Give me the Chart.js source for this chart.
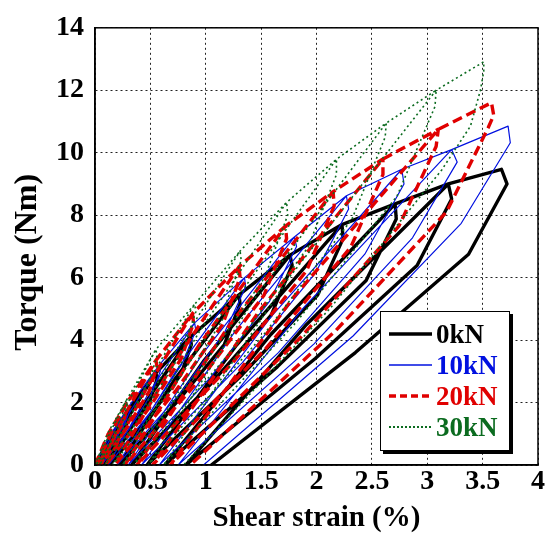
<!DOCTYPE html>
<html>
<head>
<meta charset="utf-8">
<script src="https://cdn.jsdelivr.net/npm/chart.js@4.4.1/dist/chart.umd.min.js"></script>
<style>
  html, body { margin: 0; padding: 0; background: #fff; }
  #wrap { position: relative; width: 550px; height: 536px; }
  #legend {
    position: absolute; left: 380px; top: 311px; width: 128px; height: 138px;
    border: 1.5px solid #000; background: #fff; box-shadow: 3px 3px 0 #000;
    font-family: "Liberation Serif", "Times New Roman", serif; font-weight: bold; font-size: 27px;
  }
  .row { position: absolute; left: 0; height: 30px; width: 128px; }
  .row svg { position: absolute; left: 7px; top: 0; }
  .row span { position: absolute; left: 55px; top: 0; line-height: 30px; }
</style>
</head>
<body>
<div id="wrap">
  <canvas id="c" width="550" height="536"></canvas>
  <div id="legend"></div>
</div>
<script>
// ---- Data (strain in %, torque in Nm) ----
const seriesLabels = ["0kN", "10kN", "20kN", "30kN"];
const xTicks = [0, 0.5, 1, 1.5, 2, 2.5, 3, 3.5, 4];
const yTicks = [0, 2, 4, 6, 8, 10, 12, 14];

const strain0kN = [0,
  0.13,0.30,0.31,0.274,0.167,0.03,
  0.154,0.30,0.55,0.56,0.496,0.309,0.07,
  0.291,0.55,0.86,0.87,0.774,0.491,0.13,
  0.466,0.86,1.30,1.31,1.168,0.751,0.22,
  0.717,1.30,1.76,1.78,1.591,1.036,0.33,
  0.988,1.76,2.23,2.24,2.01,1.332,0.47,
  1.28,2.23,2.71,2.72,2.448,1.648,0.63,
  1.587,2.71,3.19,3.22,2.908,1.989,0.82,
  1.91,3.19,3.67,3.72,3.373,2.351,1.05];
const torque0kN = [0,
  0.85,1.75,1.6,1.2,0.64,0,
  0.875,1.75,2.95,2.75,2.06,1.1,0,
  1.475,2.95,4.1,3.85,2.89,1.54,0,
  2.05,4.1,5.45,5.15,3.86,2.06,0,
  2.725,5.45,6.72,6.4,4.8,2.56,0,
  3.36,6.72,7.7,7.25,5.44,2.9,0,
  3.85,7.7,8.36,7.88,5.91,3.15,0,
  4.18,8.36,9.0,8.52,6.39,3.41,0,
  4.5,9.0,9.47,9.0,6.75,3.6,0];

const strain10kN = [0,
  0.13,0.30,0.31,0.264,0.162,0.02,
  0.149,0.30,0.58,0.59,0.505,0.318,0.06,
  0.299,0.58,0.9,0.91,0.784,0.505,0.12,
  0.479,0.9,1.35,1.36,1.174,0.765,0.2,
  0.729,1.35,1.8,1.82,1.577,1.041,0.3,
  0.99,1.8,2.27,2.29,1.991,1.331,0.42,
  1.271,2.27,2.77,2.79,2.436,1.656,0.58,
  1.587,2.77,3.22,3.27,2.867,1.978,0.75,
  1.886,3.22,3.73,3.75,3.307,2.33,0.98];
const torque10kN = [0,
  0.92,1.85,1.7,1.275,0.68,0,
  0.925,1.85,3.2,3.0,2.25,1.2,0,
  1.6,3.2,4.55,4.3,3.225,1.72,0,
  2.275,4.55,6.0,5.7,4.275,2.28,0,
  3.0,6.0,7.3,7.0,5.25,2.8,0,
  3.65,7.3,8.62,8.2,6.15,3.28,0,
  4.31,8.62,9.47,9.0,6.75,3.6,0,
  4.735,9.47,10.1,9.7,7.275,3.88,0,
  5.05,10.1,10.85,10.32,7.74,4.13,0];

const strain20kN = [0,
  0.12,0.28,0.29,0.252,0.152,0.02,
  0.14,0.28,0.55,0.56,0.489,0.30,0.05,
  0.28,0.55,0.88,0.89,0.779,0.487,0.1,
  0.459,0.88,1.3,1.31,1.152,0.734,0.18,
  0.695,1.3,1.72,1.73,1.526,0.986,0.27,
  0.937,1.72,2.15,2.16,1.911,1.253,0.38,
  1.194,2.15,2.6,2.6,2.309,1.54,0.52,
  1.477,2.6,3.1,3.08,2.744,1.856,0.68,
  1.793,3.1,3.58,3.60,3.55,3.173,2.178,0.86];
const torque20kN = [0,
  1.0,1.95,1.8,1.35,0.72,0,
  0.975,1.95,3.35,3.15,2.36,1.26,0,
  1.675,3.35,4.85,4.55,3.41,1.82,0,
  2.425,4.85,6.35,6.0,4.5,2.4,0,
  3.175,6.35,7.65,7.25,5.44,2.9,0,
  3.825,7.65,8.75,8.3,6.225,3.32,0,
  4.375,8.75,9.8,9.3,6.975,3.72,0,
  4.9,9.8,10.75,10.2,7.65,4.08,0,
  5.375,10.75,11.6,11.2,10.8,8.1,4.32,0];

const strain30kN = [0,
  0.12,0.28,0.29,0.251,0.147,0.01,
  0.134,0.28,0.55,0.56,0.487,0.295,0.04,
  0.275,0.55,0.9,0.91,0.795,0.492,0.09,
  0.463,0.9,1.31,1.32,1.158,0.729,0.16,
  0.689,1.31,1.73,1.74,1.531,0.98,0.25,
  0.931,1.73,2.18,2.18,1.924,1.247,0.35,
  1.192,2.18,2.63,2.62,2.32,1.529,0.48,
  1.469,2.63,3.08,3.07,2.727,1.821,0.62,
  1.752,3.08,3.51,3.51,3.48,3.39,3.131,2.129,0.8];
const torque30kN = [0,
  1.05,2.05,1.9,1.425,0.76,0,
  1.025,2.05,3.7,3.5,2.625,1.4,0,
  1.85,3.7,5.15,4.9,3.675,1.96,0,
  2.575,5.15,6.85,6.55,4.91,2.62,0,
  3.425,6.85,8.41,8.0,6.0,3.2,0,
  4.205,8.41,9.79,9.3,6.975,3.72,0,
  4.895,9.79,10.95,10.5,7.875,4.2,0,
  5.475,10.95,12.0,11.48,8.61,4.59,0,
  6.0,12.0,12.91,12.6,12.0,10.85,9.45,5.04,0];

// ---- Styles ----
const styles = [
  { color: "#000000", width: 3.4, dash: [],      order: 3 },
  { color: "#0010e0", width: 1.2, dash: [],      order: 2 },
  { color: "#e00000", width: 3.4, dash: [10, 5], order: 1 },
  { color: "#0b6b1f", width: 1.6, dash: [2, 3],  order: 0 }
];
const strains = [strain0kN, strain10kN, strain20kN, strain30kN];
const torques = [torque0kN, torque10kN, torque20kN, torque30kN];

const datasets = seriesLabels.map((lab, k) => ({
  label: lab,
  data: strains[k].map((x, i) => ({ x: x, y: torques[k][i] })),
  showLine: true,
  borderColor: styles[k].color,
  backgroundColor: styles[k].color,
  borderWidth: styles[k].width,
  borderDash: styles[k].dash,
  borderJoinStyle: "round",
  pointRadius: 0,
  fill: false,
  tension: 0,
  order: styles[k].order
}));

const fontFam = '"Liberation Serif", "Times New Roman", serif';

const framePlugin = {
  id: "frame",
  afterDraw(chart) {
    const { ctx, chartArea: a } = chart;
    ctx.save();
    ctx.strokeStyle = "#000";
    ctx.lineWidth = 1.5;
    ctx.setLineDash([]);
    ctx.strokeRect(a.left, a.top, a.right - a.left, a.bottom - a.top);
    ctx.restore();
  }
};

new Chart(document.getElementById("c"), {
  type: "scatter",
  data: { datasets: datasets },
  options: {
    responsive: false,
    animation: false,
    events: [],
    layout: { padding: { top: 24, right: 12, left: 0, bottom: 0 } },
    plugins: { legend: { display: false }, tooltip: { enabled: false } },
    scales: {
      x: {
        type: "linear", min: 0, max: 4,
        afterBuildTicks: s => { s.ticks = xTicks.map(v => ({ value: v })); },
        afterFit: s => { s.height = 71; },
        grid: { color: "#222", lineWidth: 1, drawTicks: false },
        border: { display: true, color: "#000", width: 1.5, dash: [2, 3] },
        ticks: { color: "#000", padding: 0, maxRotation: 0, autoSkip: false,
                 callback: v => String(v),
                 font: { family: fontFam, weight: "bold", size: 28 } },
        title: { display: true, text: "Shear strain (%)", color: "#000", padding: { top: 0, bottom: 0 },
                 font: { family: fontFam, weight: "bold", size: 29 } }
      },
      y: {
        type: "linear", min: 0, max: 14,
        afterBuildTicks: s => { s.ticks = yTicks.map(v => ({ value: v })); },
        afterFit: s => { s.width = 95; },
        grid: { color: "#222", lineWidth: 1, drawTicks: false },
        border: { display: true, color: "#000", width: 1.5, dash: [2, 3] },
        ticks: { color: "#000", padding: 11, autoSkip: false,
                 callback: v => String(v),
                 font: { family: fontFam, weight: "bold", size: 28 } },
        title: { display: true, text: "Torque (Nm)    ", color: "#000", padding: { top: 9, bottom: 0 },
                 font: { family: fontFam, weight: "bold", size: 32 } }
      }
    }
  },
  plugins: [framePlugin]
});

// ---- Legend (HTML, real text) ----
const legend = document.getElementById("legend");
const rowTops = [7, 38, 69, 100];
seriesLabels.forEach((lab, k) => {
  const st = styles[k];
  const row = document.createElement("div");
  row.className = "row";
  row.style.top = rowTops[k] + "px";
  const dash = st.dash.length ? ` stroke-dasharray="${k === 2 ? '7,4' : '2,2'}"` : "";
  const w = k === 1 ? 1.6 : (k === 3 ? 2 : 3.5);
  row.innerHTML = `<svg width="46" height="30"><line x1="1" y1="15" x2="44" y2="15" stroke="${st.color}" stroke-width="${w}"${dash}/></svg>` +
    `<span style="color:${st.color}">${lab}</span>`;
  legend.appendChild(row);
});
</script>
</body>
</html>
